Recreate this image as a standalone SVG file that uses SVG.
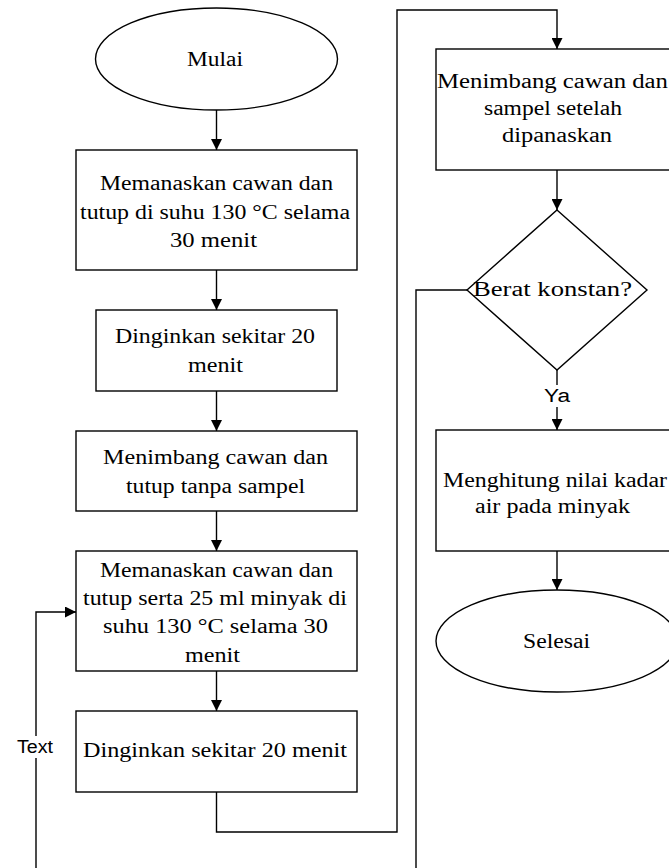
<svg xmlns="http://www.w3.org/2000/svg" width="669" height="868" viewBox="0 0 669 868">
<style>
.s{fill:#fff;stroke:#000;stroke-width:1.4}
.t{font-family:"Liberation Serif","Times New Roman",serif;font-size:20px;fill:#000}
.c{fill:none;stroke:#000;stroke-width:1.4}
.l{font-family:"Liberation Sans",Arial,sans-serif;font-size:18px;fill:#000}
</style>
<defs>
<marker id="a" viewBox="0 0 10 10" refX="10" refY="5" markerWidth="11" markerHeight="11" markerUnits="userSpaceOnUse" orient="auto">
<path d="M0,0 L10,5 L0,10 z" fill="#000"/>
</marker>
</defs>
<g id="connectors">
<path class="c" d="M216.5,110 V150" marker-end="url(#a)"/>
<path class="c" d="M216.5,270 V310" marker-end="url(#a)"/>
<path class="c" d="M216.5,391 V431" marker-end="url(#a)"/>
<path class="c" d="M216.5,511 V551" marker-end="url(#a)"/>
<path class="c" d="M216.5,671 V711" marker-end="url(#a)"/>
<path class="c" d="M216.5,792 V832 H397 V10 H557 V49" marker-end="url(#a)"/>
<path class="c" d="M557,170 V210" marker-end="url(#a)"/>
<path class="c" d="M557,370 V430" marker-end="url(#a)"/>
<path class="c" d="M557,551 V590" marker-end="url(#a)"/>
<path class="c" d="M467,290 H416 V868"/>
<path class="c" d="M36,868 V612 H76" marker-end="url(#a)"/>
<rect x="540" y="385" width="34" height="22" fill="#fff"/>
<text class="l" x="544" y="402" textLength="26" lengthAdjust="spacingAndGlyphs">Ya</text>
<rect x="14" y="736" width="44" height="22" fill="#fff"/>
<text class="l" x="17" y="753" textLength="36" lengthAdjust="spacingAndGlyphs">Text</text>
</g>
<g id="mulai">
<ellipse class="s" cx="216.5" cy="59" rx="121" ry="51"/>
<text class="t" x="187" y="66" textLength="56" lengthAdjust="spacingAndGlyphs">Mulai</text>
</g>
<g id="box1">
<rect class="s" x="76" y="150" width="281" height="120"/>
<text class="t" x="100" y="190" textLength="233" lengthAdjust="spacingAndGlyphs">Memanaskan cawan dan</text>
<text class="t" x="80" y="218.5" textLength="270" lengthAdjust="spacingAndGlyphs">tutup di suhu 130 °C selama</text>
<text class="t" x="170" y="247" textLength="87" lengthAdjust="spacingAndGlyphs">30 menit</text>
</g>
<g id="box2">
<rect class="s" x="96" y="310" width="241" height="81"/>
<text class="t" x="115" y="343" textLength="200" lengthAdjust="spacingAndGlyphs">Dinginkan sekitar 20</text>
<text class="t" x="188" y="372" textLength="55" lengthAdjust="spacingAndGlyphs">menit</text>
</g>
<g id="box3">
<rect class="s" x="76" y="431" width="281" height="80"/>
<text class="t" x="103" y="464" textLength="225" lengthAdjust="spacingAndGlyphs">Menimbang cawan dan</text>
<text class="t" x="126" y="493" textLength="179" lengthAdjust="spacingAndGlyphs">tutup tanpa sampel</text>
</g>
<g id="box4">
<rect class="s" x="76" y="551" width="281" height="120"/>
<text class="t" x="100" y="577" textLength="233" lengthAdjust="spacingAndGlyphs">Memanaskan cawan dan</text>
<text class="t" x="83" y="605" textLength="264" lengthAdjust="spacingAndGlyphs">tutup serta 25 ml minyak di</text>
<text class="t" x="103" y="633" textLength="225" lengthAdjust="spacingAndGlyphs">suhu 130 °C selama 30</text>
<text class="t" x="185" y="662" textLength="55" lengthAdjust="spacingAndGlyphs">menit</text>
</g>
<g id="box5">
<rect class="s" x="76" y="711" width="281" height="81"/>
<text class="t" x="83" y="757" textLength="264" lengthAdjust="spacingAndGlyphs">Dinginkan sekitar 20 menit</text>
</g>
<g id="box6">
<rect class="s" x="436" y="49" width="241" height="121"/>
<text class="t" x="437" y="88" textLength="231" lengthAdjust="spacingAndGlyphs">Menimbang cawan dan</text>
<text class="t" x="484" y="115" textLength="138" lengthAdjust="spacingAndGlyphs">sampel setelah</text>
<text class="t" x="502" y="142" textLength="110" lengthAdjust="spacingAndGlyphs">dipanaskan</text>
</g>
<g id="decision">
<polygon class="s" points="557,210 647,290 557,370 467,290"/>
<text class="t" x="473" y="296" textLength="159" lengthAdjust="spacingAndGlyphs">Berat konstan?</text>
</g>
<g id="box7">
<rect class="s" x="436" y="430" width="241" height="121"/>
<text class="t" x="443" y="487" textLength="224" lengthAdjust="spacingAndGlyphs">Menghitung nilai kadar</text>
<text class="t" x="475" y="513" textLength="155" lengthAdjust="spacingAndGlyphs">air pada minyak</text>
</g>
<g id="selesai">
<ellipse class="s" cx="557" cy="641" rx="121" ry="51"/>
<text class="t" x="523" y="648" textLength="67" lengthAdjust="spacingAndGlyphs">Selesai</text>
</g>
</svg>
